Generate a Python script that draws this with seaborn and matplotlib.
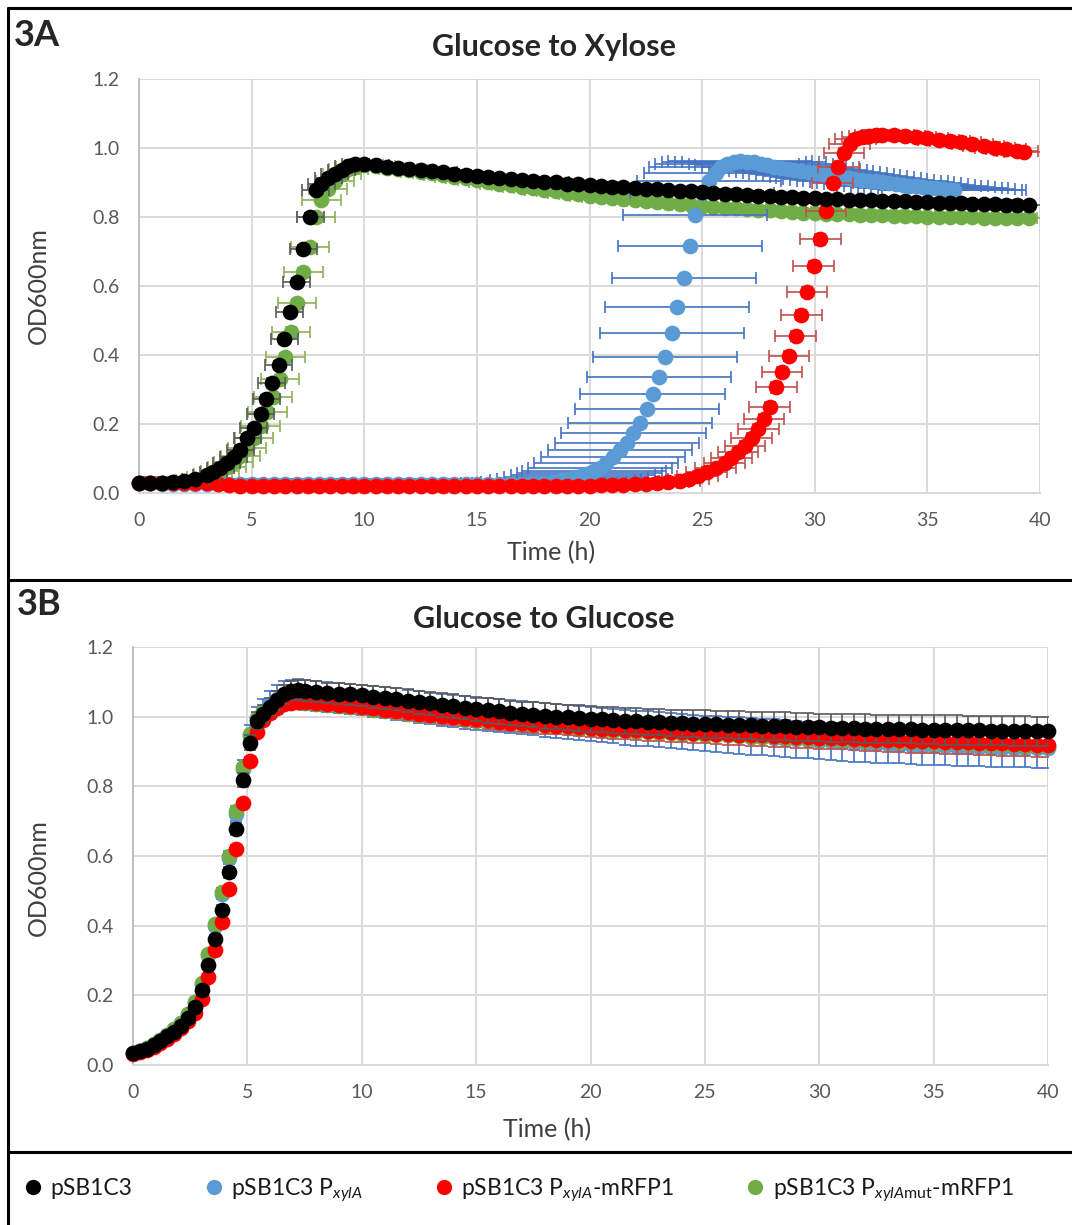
import numpy as np
import matplotlib
matplotlib.use("Agg")
import matplotlib.pyplot as plt
from matplotlib.lines import Line2D
from matplotlib.ticker import MultipleLocator, FormatStrFormatter
import seaborn as sns

# ---------------- 3A : glucose -> xylose (OD600 vs time, x error = time spread) ----------------
t_a_black = [0, 0.5, 1.0, 1.5, 2.0, 2.5, 3.0, 3.3, 3.6, 3.9, 4.2, 4.5, 4.8, 5.1, 5.4,
             5.65, 5.9, 6.2, 6.45, 6.7, 7.0, 7.3, 7.6, 7.85, 8.1, 8.4, 8.7, 9.0, 9.3, 9.6, 10.0,
             10.5, 11.0, 11.5, 12.0, 12.5, 13.0, 13.5, 14.0, 14.5, 15.0,
             15.5, 16.0, 16.5, 17.0, 17.5, 18.0, 18.5, 19.0, 19.5, 20.0,
             20.5, 21.0, 21.5, 22.0, 22.5, 23.0, 23.5, 24.0, 24.5, 25.0,
             25.5, 26.0, 26.5, 27.0, 27.5, 28.0, 28.5, 29.0, 29.5, 30.0,
             30.5, 31.0, 31.5, 32.0, 32.5, 33.0, 33.5, 34.0, 34.5, 35.0,
             35.5, 36.0, 36.5, 37.0, 37.5, 38.0, 38.5, 39.0, 39.5]
od_a_black = [0.028, 0.029, 0.030, 0.031, 0.034, 0.040, 0.052, 0.060, 0.072, 0.086, 0.104, 0.126, 0.158, 0.189, 0.228,
              0.272, 0.320, 0.371, 0.445, 0.525, 0.612, 0.706, 0.799, 0.878, 0.897, 0.912, 0.925, 0.937, 0.948, 0.955, 0.954,
              0.950, 0.946, 0.943, 0.940, 0.936, 0.933, 0.930, 0.926, 0.923, 0.920,
              0.917, 0.914, 0.911, 0.908, 0.905, 0.902, 0.900, 0.897, 0.895, 0.892,
              0.890, 0.888, 0.886, 0.884, 0.882, 0.880, 0.878, 0.876, 0.874, 0.872,
              0.870, 0.868, 0.866, 0.864, 0.862, 0.860, 0.858, 0.857, 0.855, 0.854,
              0.852, 0.851, 0.850, 0.849, 0.848, 0.847, 0.846, 0.845, 0.844, 0.843,
              0.842, 0.841, 0.840, 0.839, 0.838, 0.837, 0.836, 0.836, 0.835]

t_a_green = [0, 0.5, 1.0, 1.5, 2.0, 2.5, 3.0, 3.3, 3.6, 3.9, 4.2, 4.5, 4.8, 5.1, 5.4,
             5.7, 5.95, 6.25, 6.5, 6.75, 7.0, 7.3, 7.6, 7.85, 8.1, 8.4, 8.7, 9.0, 9.3, 9.6, 10.0,
             10.5, 11.0, 11.5, 12.0, 12.5, 13.0, 13.5, 14.0, 14.5, 15.0,
             15.5, 16.0, 16.5, 17.0, 17.5, 18.0, 18.5, 19.0, 19.5, 20.0,
             20.5, 21.0, 21.5, 22.0, 22.5, 23.0, 23.5, 24.0, 24.5, 25.0,
             25.5, 26.0, 26.5, 27.0, 27.5, 28.0, 28.5, 29.0, 29.5, 30.0,
             30.5, 31.0, 31.5, 32.0, 32.5, 33.0, 33.5, 34.0, 34.5, 35.0,
             35.5, 36.0, 36.5, 37.0, 37.5, 38.0, 38.5, 39.0, 39.5]
od_a_green = [0.028, 0.029, 0.030, 0.031, 0.033, 0.038, 0.047, 0.054, 0.063, 0.075, 0.090, 0.108, 0.130, 0.158, 0.195,
              0.236, 0.279, 0.330, 0.395, 0.468, 0.550, 0.641, 0.714, 0.800, 0.850, 0.880, 0.905, 0.925, 0.938, 0.946, 0.950,
              0.947, 0.943, 0.939, 0.935, 0.931, 0.927, 0.922, 0.917, 0.912, 0.907,
              0.902, 0.897, 0.892, 0.887, 0.883, 0.878, 0.874, 0.870, 0.866, 0.862,
              0.859, 0.855, 0.852, 0.849, 0.846, 0.843, 0.840, 0.837, 0.835, 0.832,
              0.830, 0.827, 0.825, 0.823, 0.821, 0.819, 0.817, 0.815, 0.813, 0.811,
              0.810, 0.809, 0.808, 0.807, 0.806, 0.805, 0.804, 0.803, 0.802, 0.801,
              0.800, 0.800, 0.799, 0.799, 0.798, 0.798, 0.797, 0.797, 0.797]

t_a_blue = [0, 0.5, 1.0, 1.5, 2.0, 2.5, 3.0, 3.5, 4.0, 4.5, 5.0, 5.5, 6.0, 6.5, 7.0, 7.5, 8.0,
            8.5, 9.0, 9.5, 10.0, 10.5, 11.0, 11.5, 12.0, 12.5, 13.0, 13.5, 14.0, 14.5, 15.0, 15.5, 16.0, 16.5,
            17.0, 17.5, 18.0, 18.4, 18.8, 19.1, 19.4, 19.7, 20.0, 20.2,
            20.45, 20.75, 21.05, 21.35, 21.65, 21.95, 22.25, 22.55, 22.8, 23.1,
            23.35, 23.65, 23.9, 24.2, 24.45, 24.7, 25.0, 25.3, 25.6, 25.85,
            26.1, 26.4, 26.7, 27.0, 27.3, 27.6, 27.9,
            28.2, 28.5, 28.8, 29.1, 29.4, 29.7, 30.0, 30.3, 30.6, 30.9,
            31.2, 31.5, 31.8, 32.1, 32.4, 32.7, 33.0, 33.3, 33.6, 33.9,
            34.2, 34.5, 34.8, 35.1, 35.4, 35.7, 36.0, 36.2]
od_a_blue = [0.030, 0.028, 0.026, 0.025, 0.025, 0.025, 0.025, 0.025, 0.025, 0.025, 0.025, 0.025, 0.025, 0.025, 0.025, 0.025, 0.025,
             0.025, 0.025, 0.025, 0.025, 0.025, 0.025, 0.025, 0.025, 0.025, 0.025, 0.025, 0.025, 0.025, 0.025, 0.025, 0.025, 0.025,
             0.026, 0.028, 0.030, 0.033, 0.037, 0.041, 0.046, 0.052, 0.059, 0.065,
             0.073, 0.086, 0.105, 0.125, 0.146, 0.173, 0.204, 0.243, 0.286, 0.337,
             0.395, 0.463, 0.540, 0.624, 0.716, 0.805, 0.870, 0.905, 0.928, 0.945,
             0.955, 0.960, 0.961, 0.960, 0.958, 0.955, 0.950,
             0.946, 0.943, 0.940, 0.937, 0.934, 0.931, 0.928, 0.925, 0.922, 0.919,
             0.916, 0.913, 0.911, 0.908, 0.905, 0.903, 0.900, 0.898, 0.895, 0.893,
             0.891, 0.889, 0.887, 0.885, 0.883, 0.881, 0.879, 0.878]

t_a_red = [0, 0.5, 1.0, 1.5, 2.0, 2.5, 3.0, 3.5, 4.0, 4.5, 5.0, 5.5, 6.0, 6.5, 7.0, 7.5, 8.0,
           8.5, 9.0, 9.5, 10.0, 10.5, 11.0, 11.5, 12.0, 12.5, 13.0, 13.5, 14.0, 14.5, 15.0, 15.5, 16.0,
           16.5, 17.0, 17.5, 18.0, 18.5, 19.0, 19.5, 20.0, 20.5, 21.0, 21.5, 22.0, 22.5, 23.0, 23.5, 24.0,
           24.4, 24.8, 25.2, 25.6, 26.0, 26.3, 26.6, 26.9, 27.2, 27.5,
           27.75, 28.0, 28.3, 28.55, 28.85, 29.15, 29.4, 29.65, 29.95, 30.25,
           30.5, 30.8, 31.05, 31.3, 31.55, 31.8, 32.1, 32.4, 32.7, 33.0,
           33.5, 34.0, 34.5, 35.0, 35.5, 36.0, 36.5, 37.0, 37.5, 38.0, 38.5, 39.0, 39.3]
od_a_red = [0.030, 0.030, 0.030, 0.030, 0.030, 0.030, 0.030, 0.027, 0.023, 0.021, 0.021, 0.021, 0.021, 0.021, 0.021, 0.021, 0.021,
            0.021, 0.021, 0.021, 0.021, 0.021, 0.021, 0.021, 0.021, 0.021, 0.021, 0.021, 0.021, 0.021, 0.021, 0.021, 0.021,
            0.021, 0.021, 0.021, 0.021, 0.021, 0.021, 0.021, 0.021, 0.022, 0.023, 0.024, 0.025, 0.027, 0.029, 0.032, 0.036,
            0.041, 0.050, 0.060, 0.073, 0.088, 0.102, 0.118, 0.137, 0.160, 0.186,
            0.215, 0.250, 0.306, 0.350, 0.398, 0.456, 0.516, 0.582, 0.658, 0.735,
            0.817, 0.898, 0.946, 0.985, 1.012, 1.025, 1.032, 1.036, 1.038, 1.038,
            1.037, 1.035, 1.032, 1.028, 1.024, 1.020, 1.016, 1.011, 1.006, 1.001, 0.996, 0.991, 0.989]

# spread of the curves (hours along x, OD along y) in 3A
xerr_a = {"black": 0.6, "blue": 3.2, "red": 0.9, "green": 0.85}
yerr_a = {"black": 0.012, "blue": 0.008, "red": 0.015, "green": 0.012}

# ---------------- 3B : glucose -> glucose ----------------
t_b = [0.0, 0.3, 0.6, 0.9, 1.2, 1.5, 1.8, 2.1, 2.4, 2.7, 3.0, 3.3, 3.6, 3.9, 4.2, 4.5, 4.8,
       5.1, 5.4, 5.7, 6.0, 6.3, 6.6, 6.9, 7.2, 7.5,
       8.0, 8.5, 9.0, 9.5, 10.0, 10.5, 11.0, 11.5, 12.0, 12.5,
       13.0, 13.5, 14.0, 14.5, 15.0, 15.5, 16.0, 16.5, 17.0, 17.5,
       18.0, 18.5, 19.0, 19.5, 20.0, 20.5, 21.0, 21.5, 22.0, 22.5,
       23.0, 23.5, 24.0, 24.5, 25.0, 25.5, 26.0, 26.5, 27.0, 27.5,
       28.0, 28.5, 29.0, 29.5, 30.0, 30.5, 31.0, 31.5, 32.0, 32.5,
       33.0, 33.5, 34.0, 34.5, 35.0, 35.5, 36.0, 36.5, 37.0, 37.5,
       38.0, 38.5, 39.0, 39.5, 40.0]

od_b_black = [0.034, 0.040, 0.047, 0.057, 0.069, 0.082, 0.096, 0.113, 0.136, 0.166, 0.215, 0.288, 0.362, 0.446, 0.553, 0.678, 0.818,
              0.925, 0.988, 1.008, 1.028, 1.047, 1.064, 1.075, 1.077, 1.075,
              1.071, 1.068, 1.066, 1.064, 1.061, 1.057, 1.053, 1.050, 1.046, 1.042,
              1.038, 1.034, 1.030, 1.026, 1.022, 1.018, 1.015, 1.011, 1.008, 1.005,
              1.002, 1.000, 0.998, 0.996, 0.994, 0.992, 0.990, 0.988, 0.987, 0.985,
              0.984, 0.982, 0.981, 0.980, 0.979, 0.978, 0.977, 0.976, 0.975, 0.974,
              0.973, 0.972, 0.971, 0.970, 0.969, 0.968, 0.967, 0.967, 0.966, 0.965,
              0.965, 0.964, 0.964, 0.963, 0.963, 0.962, 0.962, 0.961, 0.961, 0.960,
              0.960, 0.959, 0.959, 0.958, 0.958]
err_b_black = [0.002, 0.002, 0.002, 0.003, 0.003, 0.003, 0.004, 0.004, 0.005, 0.006, 0.007, 0.009, 0.011, 0.013, 0.015, 0.018, 0.020,
               0.022, 0.024, 0.025, 0.026, 0.027, 0.028, 0.028, 0.029, 0.030,
               0.030, 0.030, 0.031, 0.031, 0.031, 0.032, 0.032, 0.032, 0.033, 0.033,
               0.033, 0.034, 0.034, 0.034, 0.034, 0.035, 0.035, 0.035, 0.035, 0.036,
               0.036, 0.036, 0.036, 0.037, 0.037, 0.037, 0.037, 0.037, 0.038, 0.038,
               0.038, 0.038, 0.038, 0.039, 0.039, 0.039, 0.039, 0.039, 0.039, 0.040,
               0.040, 0.040, 0.040, 0.040, 0.040, 0.040, 0.041, 0.041, 0.041, 0.041,
               0.041, 0.041, 0.041, 0.041, 0.042, 0.042, 0.042, 0.042, 0.042, 0.042,
               0.042, 0.042, 0.042, 0.042, 0.042]

od_b_blue = [0.035, 0.041, 0.049, 0.060, 0.072, 0.086, 0.102, 0.121, 0.146, 0.180, 0.232, 0.315, 0.400, 0.492, 0.595, 0.722, 0.850,
             0.945, 0.995, 1.015, 1.035, 1.050, 1.060, 1.064, 1.064, 1.062,
             1.060, 1.057, 1.054, 1.051, 1.048, 1.044, 1.040, 1.036, 1.032, 1.028,
             1.024, 1.020, 1.016, 1.012, 1.009, 1.006, 1.003, 1.000, 0.997, 0.994,
             0.991, 0.988, 0.985, 0.982, 0.979, 0.976, 0.973, 0.970, 0.967, 0.965,
             0.962, 0.960, 0.957, 0.955, 0.952, 0.950, 0.948, 0.946, 0.943, 0.941,
             0.939, 0.937, 0.935, 0.933, 0.931, 0.929, 0.927, 0.925, 0.924, 0.922,
             0.921, 0.920, 0.918, 0.917, 0.916, 0.915, 0.914, 0.913, 0.912, 0.911,
             0.911, 0.910, 0.910, 0.909, 0.909]
err_b_blue = [0.002, 0.002, 0.002, 0.003, 0.003, 0.004, 0.004, 0.005, 0.006, 0.007, 0.009, 0.011, 0.013, 0.016, 0.019, 0.022, 0.026,
              0.030, 0.033, 0.036, 0.038, 0.040, 0.041, 0.042, 0.043, 0.043,
              0.043, 0.043, 0.043, 0.044, 0.044, 0.044, 0.044, 0.045, 0.045, 0.045,
              0.045, 0.046, 0.046, 0.046, 0.046, 0.047, 0.047, 0.047, 0.047, 0.048,
              0.048, 0.048, 0.048, 0.049, 0.049, 0.049, 0.049, 0.050, 0.050, 0.050,
              0.050, 0.051, 0.051, 0.051, 0.051, 0.052, 0.052, 0.052, 0.052, 0.052,
              0.053, 0.053, 0.053, 0.053, 0.053, 0.053, 0.054, 0.054, 0.054, 0.054,
              0.054, 0.054, 0.054, 0.055, 0.055, 0.055, 0.055, 0.055, 0.055, 0.055,
              0.055, 0.055, 0.055, 0.055, 0.055]

od_b_red = [0.033, 0.038, 0.044, 0.053, 0.064, 0.076, 0.090, 0.105, 0.125, 0.150, 0.190, 0.252, 0.330, 0.410, 0.505, 0.620, 0.752,
            0.872, 0.955, 0.990, 1.010, 1.025, 1.035, 1.040, 1.043, 1.042,
            1.040, 1.037, 1.034, 1.031, 1.028, 1.024, 1.020, 1.016, 1.012, 1.009,
            1.005, 1.002, 0.999, 0.995, 0.992, 0.989, 0.986, 0.983, 0.981, 0.978,
            0.976, 0.974, 0.972, 0.970, 0.968, 0.966, 0.964, 0.962, 0.961, 0.959,
            0.958, 0.956, 0.955, 0.953, 0.952, 0.951, 0.950, 0.948, 0.947, 0.946,
            0.945, 0.944, 0.942, 0.941, 0.940, 0.939, 0.938, 0.936, 0.935, 0.934,
            0.933, 0.932, 0.931, 0.930, 0.929, 0.928, 0.927, 0.926, 0.925, 0.924,
            0.923, 0.922, 0.921, 0.919, 0.918]
err_b_red = [0.002, 0.002, 0.002, 0.002, 0.003, 0.003, 0.003, 0.004, 0.004, 0.005, 0.006, 0.007, 0.008, 0.009, 0.010, 0.011, 0.012,
             0.013, 0.014, 0.015, 0.016, 0.017, 0.017, 0.018, 0.018, 0.018,
             0.018, 0.018, 0.019, 0.019, 0.019, 0.020, 0.020, 0.020, 0.021, 0.021,
             0.021, 0.022, 0.022, 0.022, 0.023, 0.023, 0.023, 0.024, 0.024, 0.024,
             0.025, 0.025, 0.025, 0.026, 0.026, 0.026, 0.027, 0.027, 0.027, 0.028,
             0.028, 0.028, 0.029, 0.029, 0.029, 0.030, 0.030, 0.030, 0.030, 0.031,
             0.031, 0.031, 0.031, 0.032, 0.032, 0.032, 0.032, 0.033, 0.033, 0.033,
             0.033, 0.033, 0.034, 0.034, 0.034, 0.034, 0.034, 0.034, 0.035, 0.035,
             0.035, 0.035, 0.035, 0.035, 0.035]

od_b_green = [0.035, 0.041, 0.049, 0.060, 0.072, 0.086, 0.102, 0.121, 0.146, 0.180, 0.235, 0.320, 0.405, 0.497, 0.600, 0.730, 0.855,
              0.950, 0.995, 1.012, 1.025, 1.034, 1.039, 1.041, 1.041, 1.039,
              1.036, 1.033, 1.030, 1.027, 1.024, 1.020, 1.016, 1.012, 1.008, 1.005,
              1.001, 0.998, 0.995, 0.991, 0.988, 0.985, 0.982, 0.979, 0.977, 0.974,
              0.972, 0.970, 0.968, 0.966, 0.964, 0.962, 0.960, 0.958, 0.957, 0.955,
              0.954, 0.952, 0.951, 0.949, 0.948, 0.947, 0.946, 0.944, 0.943, 0.942,
              0.941, 0.940, 0.938, 0.937, 0.936, 0.935, 0.934, 0.932, 0.931, 0.930,
              0.929, 0.928, 0.927, 0.926, 0.925, 0.924, 0.923, 0.922, 0.921, 0.920,
              0.919, 0.918, 0.917, 0.916, 0.915]
err_b_green = 0.008

labels = ["pSB1C3",
          r"pSB1C3 P$_{\mathit{xylA}}$",
          r"pSB1C3 P$_{\mathit{xylA}}$-mRFP1",
          r"pSB1C3 P$_{\mathit{xylA}\mathrm{mut}}$-mRFP1"]
colors = {"black": "#000000", "blue": "#5b9bd5", "red": "#ff0000", "green": "#70ad47"}
ecolors = {"black": "#595959", "blue": "#4472c4", "red": "#c0504d", "green": "#8db255"}

# ---------------- style ----------------
sns.set_theme(style="white")
plt.rcParams["font.family"] = ["Lato", "DejaVu Sans"]
plt.rcParams["mathtext.fontset"] = "custom"
plt.rcParams["mathtext.rm"] = "Lato"
plt.rcParams["mathtext.it"] = "Lato:italic"
plt.rcParams["mathtext.bf"] = "Lato:bold"

W, H = 1072, 1225
fig = plt.figure(figsize=(W / 100, H / 100), dpi=100)
fig.patch.set_facecolor("white")


def px_box(x0, x1, y_top, y_bot):
    return [x0 / W, 1 - y_bot / H, (x1 - x0) / W, (y_bot - y_top) / H]


ax_a = fig.add_axes(px_box(139, 1040, 79, 493))
ax_b = fig.add_axes(px_box(133, 1048, 647, 1065))


def series(ax, t, y, key, z, xerr=None, yerr=None):
    ax.errorbar(t, y, xerr=xerr, yerr=yerr, fmt="none", ecolor=ecolors[key],
                elinewidth=1.2, capsize=4.5, capthick=1.2, zorder=z)
    sns.scatterplot(x=np.array(t), y=np.array(y), ax=ax, color=colors[key], s=128,
                    linewidth=0, zorder=z + 0.5, clip_on=False, legend=False)


# 3A drawing order: green, blue, red, black
series(ax_a, t_a_green, od_a_green, "green", 2, xerr_a["green"], yerr_a["green"])
series(ax_a, t_a_blue, od_a_blue, "blue", 4, xerr_a["blue"], yerr_a["blue"])
series(ax_a, t_a_red, od_a_red, "red", 6, xerr_a["red"], yerr_a["red"])
series(ax_a, t_a_black, od_a_black, "black", 8, xerr_a["black"], yerr_a["black"])

# 3B drawing order: blue, green, red, black
series(ax_b, t_b, od_b_blue, "blue", 2, yerr=err_b_blue)
series(ax_b, t_b, od_b_green, "green", 4, yerr=err_b_green)
series(ax_b, t_b, od_b_red, "red", 6, yerr=err_b_red)
series(ax_b, t_b, od_b_black, "black", 8, yerr=err_b_black)

for ax in (ax_a, ax_b):
    ax.set_xlim(0, 40)
    ax.set_ylim(0, 1.2)
    ax.xaxis.set_major_locator(MultipleLocator(5))
    ax.yaxis.set_major_locator(MultipleLocator(0.2))
    ax.yaxis.set_minor_locator(MultipleLocator(0.04))
    ax.yaxis.set_major_formatter(FormatStrFormatter("%.1f"))
    ax.grid(True, which="major", color="#d9d9d9", linewidth=1.4, zorder=0)
    ax.set_axisbelow(True)
    for s in ("top", "right"):
        ax.spines[s].set_visible(False)
    ax.spines["left"].set_color("#bfbfbf")
    ax.spines["left"].set_linewidth(1.4)
    ax.spines["bottom"].set_color("#d9d9d9")
    ax.spines["bottom"].set_linewidth(1.4)
    ax.tick_params(axis="y", which="both", direction="in", length=5, width=1.3,
                   color="#bfbfbf", labelsize=14, labelcolor="#595959", pad=14)
    ax.tick_params(axis="x", which="major", direction="out", length=4, width=1.3,
                   color="#bfbfbf", labelsize=14, labelcolor="#595959", pad=10)
    ax.set_xlabel("")
    ax.set_ylabel("")

# ---------------- texts ----------------
fig.text(14 / W, 1 - 35 / H, "3A", fontsize=26, fontweight="bold", ha="left", va="center")
fig.text(17 / W, 1 - 605 / H, "3B", fontsize=26, fontweight="bold", ha="left", va="center")
fig.text(554 / W, 1 - 47 / H, "Glucose to Xylose", fontsize=22, fontweight="bold", ha="center", va="center")
fig.text(544 / W, 1 - 619 / H, "Glucose to Glucose", fontsize=22, fontweight="bold", ha="center", va="center")
for yc in (286, 878):
    fig.text(38 / W, 1 - yc / H, "OD600nm", fontsize=18, color="#404040",
             rotation=90, ha="center", va="center")
fig.text(551 / W, 1 - 553 / H, "Time (h)", fontsize=18, color="#404040", ha="center", va="center")
fig.text(547 / W, 1 - 1130 / H, "Time (h)", fontsize=18, color="#404040", ha="center", va="center")

# ---------------- panel frame ----------------
frame_kw = dict(transform=fig.transFigure, color="black", linewidth=2.2)
fig.add_artist(Line2D([8 / W, 8 / W], [0, 1 - 8 / H], **frame_kw))
fig.add_artist(Line2D([8 / W, 1], [1 - 8 / H, 1 - 8 / H], **frame_kw))
fig.add_artist(Line2D([8 / W, 1], [1 - 580 / H, 1 - 580 / H], **frame_kw))
fig.add_artist(Line2D([8 / W, 1], [1 - 1152 / H, 1 - 1152 / H], **frame_kw))

# ---------------- legend ----------------
handles = [Line2D([], [], linestyle="none", marker="o", markersize=11,
                  markerfacecolor=colors[k], markeredgewidth=0)
           for k in ("black", "blue", "red", "green")]
fig.legend(handles, labels, loc="center left", bbox_to_anchor=(24 / W, 1 - 1190 / H),
           ncol=4, frameon=False, fontsize=16.5, handlelength=0.8, handletextpad=0.35,
           columnspacing=3.15, borderpad=0, borderaxespad=0, labelcolor="#1a1a1a")

fig.savefig("out.png", dpi=100, facecolor="white")
